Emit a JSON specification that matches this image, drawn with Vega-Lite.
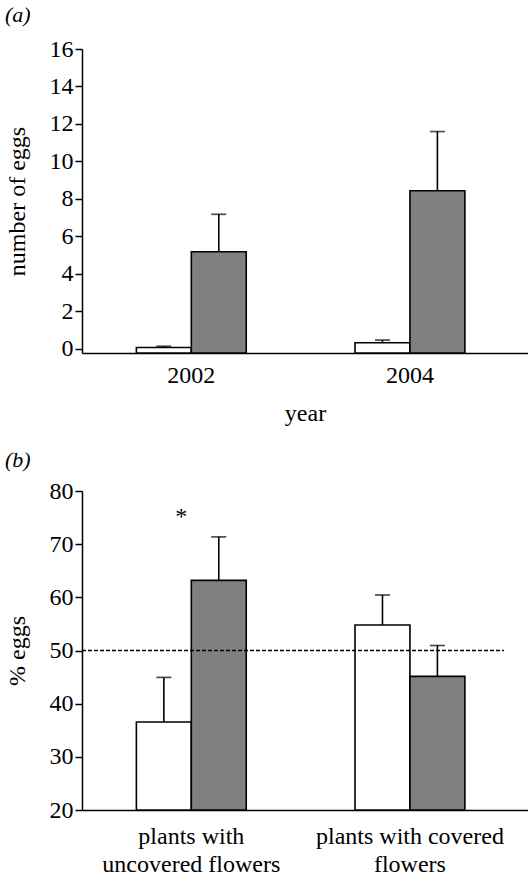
{
  "$schema": "https://vega.github.io/schema/vega-lite/v6.json",
  "padding": {"left": 5, "top": 4, "right": 0, "bottom": 0},
  "background": "white",
  "config": {
    "view": {"stroke": null},
    "font": "Liberation Serif",
    "axis": {
      "domainColor": "black", "domainWidth": 1.5,
      "tickColor": "black", "tickWidth": 1.5, "tickSize": 7,
      "labelFont": "Liberation Serif", "labelFontSize": 24, "labelColor": "black", "labelOverlap": false, "labelLimit": 400,
      "titleFont": "Liberation Serif", "titleFontSize": 24, "titleColor": "black", "titleFontWeight": "normal",
      "grid": false
    },
    "title": {"font": "Liberation Serif", "fontSize": 22, "fontStyle": "italic", "fontWeight": "normal", "color": "black", "anchor": "start", "frame": "bounds"},
    "concat": {"spacing": 24}
  },
  "datasets": {
    "eggs": [
      {"year": "2002", "series": "s1", "value": 0.05, "upper": 0.12},
      {"year": "2002", "series": "s2", "value": 5.17, "upper": 7.17},
      {"year": "2004", "series": "s1", "value": 0.31, "upper": 0.45},
      {"year": "2004", "series": "s2", "value": 8.43, "upper": 11.59}
    ],
    "pct": [
      {"plants": "plants with uncovered flowers", "series": "s1", "value": 36.56, "upper": 44.94},
      {"plants": "plants with uncovered flowers", "series": "s2", "value": 63.19, "upper": 71.37},
      {"plants": "plants with covered flowers", "series": "s1", "value": 54.81, "upper": 60.44},
      {"plants": "plants with covered flowers", "series": "s2", "value": 45.13, "upper": 50.94}
    ],
    "marks": [
      {"plants": "plants with uncovered flowers", "y": 73.8, "label": "*"}
    ]
  },
  "vconcat": [
    {
      "title": {"text": "(a)", "offset": 10},
      "width": 446,
      "height": 304,
      "data": {"name": "eggs"},
      "encoding": {
        "x": {"field": "year", "type": "nominal", "sort": null,
          "scale": {"paddingInner": 0, "paddingOuter": 0.02, "align": 0},
          "axis": {"title": "year", "labelAngle": 0, "ticks": false, "labelPadding": 10, "titlePadding": 14}},
        "xOffset": {"field": "series", "type": "nominal", "sort": null,
          "scale": {"paddingInner": 0, "paddingOuter": 0.99}},
        "y": {"field": "value", "type": "quantitative",
          "scale": {"domain": [-0.24, 16], "nice": false, "zero": false},
          "axis": {"title": "number of eggs", "values": [0, 2, 4, 6, 8, 10, 12, 14, 16], "titlePadding": 20}}
      },
      "layer": [
        {
          "mark": {"type": "bar", "stroke": "black", "strokeWidth": 1.6},
          "encoding": {
            "y2": {"datum": -0.24},
            "color": {"field": "series", "type": "nominal",
              "scale": {"domain": ["s1", "s2"], "range": ["#ffffff", "#808080"]}, "legend": null}
          }
        },
        {
          "mark": {"type": "rule", "color": "black", "strokeWidth": 1.6},
          "encoding": {
            "y2": {"field": "upper"}
          }
        },
        {
          "mark": {"type": "tick", "color": "black", "size": 15, "thickness": 1.7},
          "encoding": {
            "y": {"field": "upper", "type": "quantitative"}
          }
        }
      ]
    },
    {
      "title": {"text": "(b)", "offset": 7},
      "width": 446,
      "height": 319,
      "encoding": {
        "y": {"type": "quantitative",
          "scale": {"domain": [20, 80], "nice": false, "zero": false},
          "axis": {"title": "% eggs", "values": [20, 30, 40, 50, 60, 70, 80], "titlePadding": 20}}
      },
      "layer": [
        {
          "data": {"name": "pct"},
          "mark": {"type": "bar", "stroke": "black", "strokeWidth": 1.6},
          "encoding": {
            "x": {"field": "plants", "type": "nominal", "sort": null,
              "scale": {"domain": ["plants with uncovered flowers", "plants with covered flowers"], "paddingInner": 0, "paddingOuter": 0.02, "align": 0},
              "axis": {"title": null, "labelAngle": 0, "ticks": false, "labelPadding": 14, "labelLineHeight": 28,
                "labelExpr": "datum.value == 'plants with uncovered flowers' ? ['plants with', 'uncovered flowers'] : ['plants with covered', 'flowers']"}},
            "xOffset": {"field": "series", "type": "nominal", "sort": null, "scale": {"paddingInner": 0, "paddingOuter": 0.99}},
            "y": {"field": "value"},
            "y2": {"datum": 20},
            "color": {"field": "series", "type": "nominal",
              "scale": {"domain": ["s1", "s2"], "range": ["#ffffff", "#808080"]}, "legend": null}
          }
        },
        {
          "data": {"name": "pct"},
          "mark": {"type": "rule", "color": "black", "strokeWidth": 1.6},
          "encoding": {
            "x": {"field": "plants", "type": "nominal", "sort": null},
            "xOffset": {"field": "series", "type": "nominal", "sort": null},
            "y": {"field": "value"},
            "y2": {"field": "upper"}
          }
        },
        {
          "data": {"name": "pct"},
          "mark": {"type": "tick", "color": "black", "size": 15, "thickness": 1.7},
          "encoding": {
            "x": {"field": "plants", "type": "nominal", "sort": null},
            "xOffset": {"field": "series", "type": "nominal", "sort": null},
            "y": {"field": "upper"}
          }
        },
        {
          "data": {"values": [{"ref": 50, "from": "plants with uncovered flowers", "to": "plants with covered flowers"}]},
          "mark": {"type": "rule", "color": "black", "strokeWidth": 1.3, "strokeDash": [4, 2]},
          "encoding": {
            "x": {"field": "from", "type": "nominal", "bandPosition": 0},
            "x2": {"field": "to", "bandPosition": 0.93},
            "y": {"field": "ref"}
          }
        },
        {
          "data": {"name": "marks"},
          "mark": {"type": "text", "fontSize": 24, "baseline": "alphabetic", "dx": -10, "color": "black"},
          "encoding": {
            "x": {"field": "plants", "type": "nominal", "sort": null},
            "y": {"field": "y"},
            "text": {"field": "label"}
          }
        }
      ]
    }
  ]
}
